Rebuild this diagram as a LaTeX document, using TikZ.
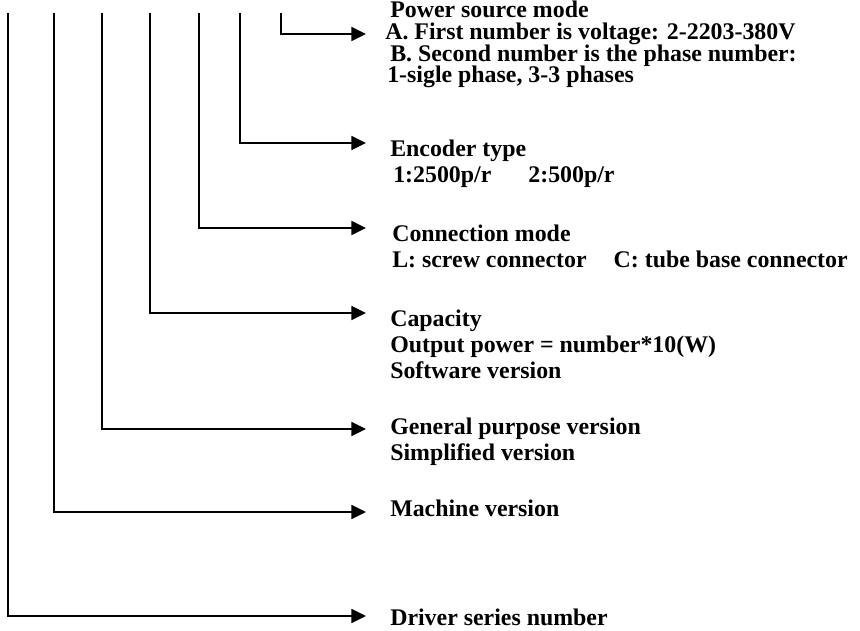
\documentclass[tikz,border=0pt]{standalone}
\usepackage{fontspec}
\setmainfont{Liberation Serif}
\usetikzlibrary{arrows.meta}

\begin{document}
\begin{tikzpicture}[
  x=0.75pt, y=-0.75pt,
  font=\fontsize{17.9}{19.5}\selectfont\bfseries,
  lbl/.style={anchor=base west, inner sep=0pt, align=left},
  arr/.style={-{Triangle[length=11pt,width=10.5pt]}, line width=1.3pt}
]
\useasboundingbox (0,0) rectangle (860,631);

% top ends of the code lines
\coordinate (tdrv) at (8,13);
\coordinate (tmac) at (54,13);
\coordinate (tgen) at (102,13);
\coordinate (tcap) at (150,13);
\coordinate (tcon) at (199,13);
\coordinate (tenc) at (240,13);
\coordinate (tpow) at (281,13);

% arrow ends
\coordinate (epow) at (366,34);
\coordinate (eenc) at (366,143);
\coordinate (econ) at (366,228);
\coordinate (ecap) at (366,313);
\coordinate (egen) at (366,429);
\coordinate (emac) at (366,512);
\coordinate (edrv) at (366,616);

% labels, placed by the baseline of their last line
\node[lbl] (pow) at (385,83) {\hspace*{3.75pt}Power source mode\\[-3.1pt]
  A. First number is voltage: 2-2203-380V\\[-3.1pt]
  \hspace*{3.75pt}B. Second number is the phase number:\\[-3.1pt]
  \hspace*{1.5pt}1-sigle phase, 3-3 phases};
\node[lbl] (enc) at (390,183) {Encoder type\\
  \hspace*{2.25pt}1:2500p/r\hspace{27.75pt}2:500p/r};
\node[lbl] (con) at (392,267) {Connection mode\\
  L: screw connector\hspace{20.25pt}C: tube base connector};
\node[lbl] (cap) at (390,378) {Capacity\\
  Output power = number*10(W)\\
  Software version};
\node[lbl] (gen) at (390,460) {General purpose version\\
  Simplified version};
\node[lbl] (mac) at (390,516) {Machine version};
\node[lbl] (drv) at (390,625) {Driver series number};

\draw[arr] (tpow) |- (epow);
\draw[arr] (tenc) |- (eenc);
\draw[arr] (tcon) |- (econ);
\draw[arr] (tcap) |- (ecap);
\draw[arr] (tgen) |- (egen);
\draw[arr] (tmac) |- (emac);
\draw[arr] (tdrv) |- (edrv);
\end{tikzpicture}
\end{document}
